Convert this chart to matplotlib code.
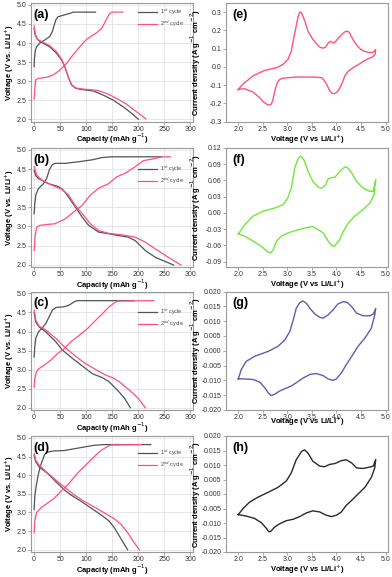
import matplotlib
matplotlib.use("Agg")
import matplotlib.pyplot as plt
import numpy as np

plt.rcParams['font.family'] = ['Liberation Sans', 'DejaVu Sans']

# ---------------- Galvanostatic data (capacity mAh/g, voltage V) ----------------
# panel (a)
a_c1_cap = [0, 0.6, 2, 4.5, 11, 20.5, 30, 35, 38.5, 42, 46, 59, 69, 75, 118]
a_c1_v = [3.38, 3.6, 3.77, 3.9, 4.0, 4.08, 4.17, 4.3, 4.47, 4.62, 4.69, 4.74, 4.78, 4.81, 4.81]
a_d1_cap = [0, 2, 6, 11, 30, 43, 53, 59, 65.5, 72, 80, 91, 114, 133, 152, 171.5, 187.5, 200]
a_d1_v = [4.38, 4.22, 4.1, 4.04, 3.9, 3.73, 3.55, 3.38, 3.11, 2.9, 2.81, 2.78, 2.74, 2.63, 2.5, 2.32, 2.15, 2.0]
a_d2_cap = [0, 2, 6, 17, 30, 43, 53, 60, 65.5, 72, 80, 94, 120, 139, 159, 178, 197, 214.5]
a_d2_v = [4.45, 4.25, 4.1, 4.02, 3.93, 3.77, 3.57, 3.33, 3.11, 2.9, 2.82, 2.79, 2.76, 2.68, 2.54, 2.39, 2.19, 2.01]
a_c2_cap = [0, 1.3, 3.2, 7.7, 24, 36.6, 49.5, 62, 72, 85, 101, 120, 130, 138, 144.5, 149, 170]
a_c2_v = [2.53, 2.81, 3.03, 3.07, 3.1, 3.16, 3.29, 3.46, 3.64, 3.86, 4.1, 4.27, 4.39, 4.6, 4.76, 4.81, 4.81]

# panel (b)
b_c1_cap = [0, 1.3, 3.2, 8.3, 18, 24, 29, 34, 40, 60, 85, 111, 130, 149, 245]
b_c1_v = [3.33, 3.6, 3.82, 3.99, 4.12, 4.25, 4.47, 4.6, 4.65, 4.65, 4.69, 4.74, 4.8, 4.82, 4.82]
b_d1_cap = [0, 3, 8.3, 27.5, 47, 56, 66, 79, 92, 104.5, 124, 143, 162, 181, 194, 213.5, 233, 268]
b_d1_v = [4.47, 4.33, 4.25, 4.12, 4.04, 3.95, 3.77, 3.51, 3.25, 3.03, 2.85, 2.81, 2.76, 2.72, 2.63, 2.37, 2.19, 1.99]
b_d2_cap = [0, 5, 15, 34, 53, 66, 79, 95, 108, 124, 143, 169, 194, 213.5, 233, 258, 282]
b_d2_v = [4.56, 4.34, 4.21, 4.08, 3.97, 3.82, 3.55, 3.29, 3.07, 2.89, 2.82, 2.78, 2.72, 2.59, 2.41, 2.19, 1.99]
b_c2_cap = [0, 2, 5, 11.5, 24, 40, 60, 76, 92, 108, 124, 143, 159, 175, 194, 210, 230, 245, 262]
b_c2_v = [2.37, 2.76, 2.98, 3.03, 3.05, 3.07, 3.2, 3.38, 3.55, 3.82, 4.0, 4.12, 4.3, 4.39, 4.56, 4.72, 4.77, 4.82, 4.82]

# panel (c)
c_c1_cap = [0, 1.3, 3.2, 8.3, 16, 22.4, 29, 35, 41.7, 57.7, 67, 77, 83, 192]
c_c1_v = [3.33, 3.6, 3.82, 3.99, 4.1, 4.21, 4.39, 4.56, 4.63, 4.65, 4.69, 4.78, 4.81, 4.81]
c_d1_cap = [0, 3.2, 9.6, 22.4, 41.7, 54.5, 74, 93, 112, 131, 144, 160, 173, 184.6]
c_d1_v = [4.49, 4.25, 4.12, 3.99, 3.73, 3.51, 3.29, 3.09, 2.89, 2.79, 2.68, 2.46, 2.26, 2.0]
c_d2_cap = [0, 3.2, 9.6, 22.4, 41.7, 57.7, 77, 96, 118.6, 138, 150.6, 163.5, 183, 199, 213.5]
c_d2_v = [4.56, 4.3, 4.14, 4.04, 3.82, 3.6, 3.38, 3.18, 3.0, 2.85, 2.79, 2.68, 2.46, 2.26, 2.0]
c_c2_cap = [0, 1.3, 4.5, 9.6, 19, 32, 45, 57.7, 70.5, 86.5, 102.6, 118.6, 131.4, 144, 154, 160, 229.5]
c_c2_v = [2.54, 2.76, 2.94, 3.03, 3.11, 3.25, 3.42, 3.55, 3.73, 3.9, 4.08, 4.3, 4.47, 4.65, 4.75, 4.8, 4.81]

# panel (d)
d_c1_cap = [0, 1.3, 3.8, 7.7, 11.5, 16, 20.5, 25.6, 38.5, 57.7, 90, 115, 134.6, 224]
d_c1_v = [3.08, 3.43, 3.69, 4.0, 4.22, 4.4, 4.56, 4.62, 4.65, 4.66, 4.74, 4.8, 4.82, 4.82]
d_d1_cap = [0, 3.2, 9.6, 25.6, 45, 57.7, 70.5, 90, 109, 128, 144, 154, 163.5, 173, 179.5]
d_d1_v = [4.53, 4.36, 4.22, 4.05, 3.78, 3.61, 3.47, 3.3, 3.12, 2.94, 2.77, 2.59, 2.37, 2.15, 2.0]
d_d2_cap = [0, 3.2, 9.6, 25.6, 45, 61, 77, 96, 115, 134.6, 154, 167, 179.5, 192, 202]
d_d2_v = [4.58, 4.4, 4.27, 4.06, 3.83, 3.65, 3.47, 3.3, 3.15, 2.99, 2.83, 2.68, 2.46, 2.19, 2.0]
d_c2_cap = [0, 1.3, 4.5, 12.8, 25.6, 38.5, 51, 67, 83, 99, 115, 128, 141, 147, 205]
d_c2_v = [2.46, 2.77, 2.99, 3.12, 3.25, 3.38, 3.56, 3.78, 4.05, 4.27, 4.49, 4.66, 4.77, 4.81, 4.82]

# ---------------- CV data (voltage V, current density) ----------------
e_v = [2.0, 2.06, 2.13, 2.2, 2.3, 2.42, 2.54, 2.66, 2.78, 2.91, 3.01, 3.08, 3.15, 3.22, 3.25, 3.28,
       3.32, 3.37, 3.42, 3.52, 3.6, 3.66, 3.72, 3.78, 3.83, 3.88, 3.93, 3.98, 4.03, 4.1, 4.16, 4.21,
       4.26, 4.3, 4.36, 4.43, 4.5, 4.57, 4.64, 4.71, 4.76, 4.8,
       4.79, 4.76, 4.72, 4.65, 4.55, 4.45, 4.35, 4.24, 4.17, 4.12, 4.07, 4.03, 3.99, 3.95, 3.91, 3.86,
       3.8, 3.75, 3.7, 3.6, 3.42, 3.2, 3.0, 2.9, 2.84, 2.8, 2.76, 2.73, 2.7, 2.67, 2.64, 2.6, 2.55,
       2.5, 2.44, 2.37, 2.3, 2.2, 2.13, 2.05, 2.0]
e_i = [-0.125, -0.105, -0.087, -0.072, -0.05, -0.034, -0.02, -0.012, -0.005, 0.013, 0.04, 0.085,
       0.185, 0.276, 0.3, 0.298, 0.276, 0.24, 0.195, 0.15, 0.125, 0.108, 0.102, 0.108, 0.13, 0.14,
       0.13, 0.138, 0.155, 0.175, 0.19, 0.196, 0.19, 0.168, 0.14, 0.113, 0.095, 0.085, 0.08, 0.078,
       0.082, 0.095,
       0.07, 0.06, 0.052, 0.045, 0.03, 0.013, -0.003, -0.024, -0.05, -0.087, -0.115, -0.133, -0.143,
       -0.147, -0.145, -0.13, -0.096, -0.075, -0.06, -0.057, -0.056, -0.056, -0.06, -0.063, -0.07,
       -0.085, -0.115, -0.15, -0.187, -0.205, -0.21, -0.208, -0.2, -0.19, -0.17, -0.155, -0.138,
       -0.128, -0.12, -0.122, -0.125]

f_v = [2.0, 2.13, 2.3, 2.5, 2.74, 2.91, 3.01, 3.08, 3.15, 3.22, 3.27, 3.34, 3.42, 3.52, 3.64, 3.71,
       3.78, 3.83, 3.9, 3.97, 4.07, 4.17, 4.22, 4.31, 4.41, 4.54, 4.68, 4.75, 4.8,
       4.78, 4.77, 4.68, 4.54, 4.37, 4.24, 4.14, 4.05, 3.95, 3.9, 3.83, 3.73, 3.52, 3.35, 3.15, 3.01,
       2.88, 2.78, 2.71, 2.66, 2.6, 2.47, 2.3, 2.13, 2.0]
f_i = [-0.039, -0.022, -0.006, 0.003, 0.009, 0.015, 0.028, 0.046, 0.083, 0.101, 0.105, 0.098, 0.077,
       0.058, 0.047, 0.046, 0.052, 0.063, 0.065, 0.066, 0.077, 0.085, 0.084, 0.074, 0.058, 0.046,
       0.04, 0.04, 0.061,
       0.049, 0.034, 0.018, 0.006, -0.006, -0.019, -0.034, -0.052, -0.062, -0.06, -0.052, -0.037,
       -0.025, -0.028, -0.033, -0.037, -0.043, -0.052, -0.068, -0.074, -0.072, -0.062, -0.052,
       -0.043, -0.039]

g_v = [2.0, 2.06, 2.16, 2.33, 2.61, 2.81, 2.95, 3.05, 3.12, 3.18, 3.25, 3.32, 3.39, 3.46, 3.56, 3.66,
       3.73, 3.83, 3.93, 4.03, 4.14, 4.22, 4.31, 4.41, 4.54, 4.68, 4.75, 4.8,
       4.78, 4.71, 4.58, 4.44, 4.31, 4.2, 4.1, 4.0, 3.93, 3.83, 3.73, 3.59, 3.46, 3.32, 3.18, 3.08,
       2.95, 2.84, 2.74, 2.67, 2.61, 2.54, 2.44, 2.3, 2.13, 2.0]
g_i = [-0.0095, -0.0064, -0.0036, -0.0019, -0.0002, 0.0015, 0.0037, 0.0065, 0.0104, 0.0143, 0.0162,
       0.0168, 0.016, 0.0143, 0.0124, 0.0113, 0.011, 0.0121, 0.0138, 0.0158, 0.0166, 0.0163, 0.0149,
       0.0127, 0.0118, 0.0118, 0.0124, 0.0143,
       0.0121, 0.0076, 0.0043, 0.0015, -0.0019, -0.0047, -0.0075, -0.0095, -0.0100, -0.0095, -0.0084,
       -0.0077, -0.008, -0.0092, -0.0108, -0.0119, -0.0128, -0.0136, -0.0147, -0.0151, -0.0142,
       -0.0125, -0.0106, -0.0097, -0.0095, -0.0095]

h_v = [2.0, 2.1, 2.23, 2.4, 2.61, 2.81, 2.98, 3.08, 3.18, 3.29, 3.35, 3.42, 3.52, 3.66, 3.76, 3.86,
       3.97, 4.1, 4.2, 4.31, 4.41, 4.54, 4.68, 4.75, 4.8,
       4.78, 4.71, 4.58, 4.44, 4.31, 4.2, 4.1, 4.0, 3.9, 3.79, 3.66, 3.52, 3.39, 3.25, 3.12, 2.98,
       2.84, 2.74, 2.66, 2.62, 2.57, 2.47, 2.33, 2.16, 2.0]
h_i = [-0.0071, -0.005, -0.0028, -0.0011, 0.0006, 0.0023, 0.0045, 0.0073, 0.0118, 0.0147, 0.0152,
       0.0141, 0.0113, 0.0096, 0.0094, 0.0102, 0.0105, 0.0115, 0.0118, 0.0107, 0.009, 0.0088, 0.0093,
       0.0096, 0.0119,
       0.009, 0.0057, 0.0023, 0.0, -0.0022, -0.0039, -0.0062, -0.0073, -0.0078, -0.0073, -0.0062,
       -0.0058, -0.0065, -0.0078, -0.0087, -0.0092, -0.0103, -0.0114, -0.0129, -0.013, -0.0118,
       -0.0099, -0.0084, -0.0076, -0.0071]

cap_ticks = [0, 50, 100, 150, 200, 250, 300]
volt_ticks = [2.0, 2.5, 3.0, 3.5, 4.0, 4.5, 5.0]
cv_xticks = [2.0, 2.5, 3.0, 3.5, 4.0, 4.5, 5.0]
e_yticks = [-0.3, -0.2, -0.1, 0.0, 0.1, 0.2, 0.3]
f_yticks = [-0.09, -0.06, -0.03, 0.00, 0.03, 0.06, 0.09, 0.12]
gh_yticks = [-0.020, -0.015, -0.010, -0.005, 0.000, 0.005, 0.010, 0.015, 0.020]

GREY = '#4d5555'
PINK = '#ff4f7f'
cv_colors = ['#ff5377', '#6fe83a', '#5a5fb3', '#2a2a2a']

W, H = 392, 577
fig = plt.figure(figsize=(W / 100, H / 100), dpi=100)

rows = [(3, 121.5), (148, 267), (291.5, 410), (436, 552)]
LX0, LX1 = 31, 193
RX0, RX1 = 226, 388
LABEL_FS = 5.5


def make_ax(x0, x1, top, bot):
    return fig.add_axes([x0 / W, 1 - bot / H, (x1 - x0) / W, (bot - top) / H])


def style(ax):
    for s in ax.spines.values():
        s.set_color('#9a9a9a')
        s.set_linewidth(0.8)
    ax.tick_params(labelsize=5, length=2, width=0.6, pad=1.2, colors='#9a9a9a', labelcolor='#333333')


gal = [
    ('(a)', a_c1_cap, a_c1_v, a_d1_cap, a_d1_v, a_c2_cap, a_c2_v, a_d2_cap, a_d2_v, 1.0),
    ('(b)', b_c1_cap, b_c1_v, b_d1_cap, b_d1_v, b_c2_cap, b_c2_v, b_d2_cap, b_d2_v, 0.90),
    ('(c)', c_c1_cap, c_c1_v, c_d1_cap, c_d1_v, c_c2_cap, c_c2_v, c_d2_cap, c_d2_v, 0.90),
    ('(d)', d_c1_cap, d_c1_v, d_d1_cap, d_d1_v, d_c2_cap, d_c2_v, d_d2_cap, d_d2_v, 0.93),
]

for (lab, c1x, c1y, d1x, d1y, c2x, c2y, d2x, d2y, legy), (top, bot) in zip(gal, rows):
    ax = make_ax(LX0, LX1, top, bot)
    style(ax)
    ax.plot(c1x, c1y, color=GREY, lw=0.9, label='1$^{st}$ cycle')
    ax.plot(d1x, d1y, color=GREY, lw=0.9)
    ax.plot(c2x, c2y, color=PINK, lw=0.9, label='2$^{nd}$ cycle')
    ax.plot(d2x, d2y, color=PINK, lw=0.9)
    ax.set_xlim(-6, 305)
    ax.set_ylim(1.94, 5.05)
    ax.set_xticks(cap_ticks)
    ax.set_yticks(volt_ticks)
    ax.set_yticklabels([f'{v:.1f}' for v in volt_ticks])
    ax.grid(True, color='#e3e3e3', lw=0.6)
    ax.set_axisbelow(True)
    ax.set_xlabel('Capacity (mAh g$^{-1}$)', fontsize=LABEL_FS, fontweight='bold', labelpad=-0.8)
    ax.set_ylabel('Voltage (V vs. Li/Li$^{+}$)', fontsize=LABEL_FS, fontweight='bold')
    ax.yaxis.set_label_coords(-0.093, 0.5)
    ax.text(0.012, 0.95, lab, transform=ax.transAxes, fontsize=9, fontweight='bold',
            va='top', ha='left')
    ax.legend(loc='upper right', bbox_to_anchor=(0.97, legy), frameon=False, fontsize=4,
              handlelength=3.4, handletextpad=0.6, labelspacing=0.3, borderpad=0.2,
              labelcolor='#444444')

cv = [('(e)', e_v, e_i, (-0.3, 0.35), e_yticks, '%.1f', -0.8),
      ('(f)', f_v, f_i, (-0.1, 0.12), f_yticks, '%.2f', -0.8),
      ('(g)', g_v, g_i, (-0.02, 0.02), gh_yticks, '%.3f', -5.0),
      ('(h)', h_v, h_i, (-0.02, 0.02), gh_yticks, '%.3f', -0.8)]

for (lab, vx, iy, ylim, yt, fmt, lp), (top, bot), col in zip(cv, rows, cv_colors):
    ax = make_ax(RX0, RX1, top, bot)
    style(ax)
    ax.plot(vx, iy, color=col, lw=1.0)
    ax.set_xlim(1.75, 5.05)
    ax.set_ylim(*ylim)
    ax.set_xticks(cv_xticks)
    ax.set_xticklabels([f'{v:.1f}' for v in cv_xticks])
    ax.set_yticks(yt)
    ax.set_yticklabels([fmt % v for v in yt])
    ax.set_xlabel('Voltage (V vs Li/Li$^{+}$)', fontsize=LABEL_FS, fontweight='bold', labelpad=lp)
    ax.set_ylabel('Current density (A g$^{-1}$ cm$^{-2}$)', fontsize=LABEL_FS, fontweight='bold')
    ax.yaxis.set_label_coords(-0.142, 0.5)
    ax.text(0.04, 0.95, lab, transform=ax.transAxes, fontsize=9, fontweight='bold',
            va='top', ha='left')

fig.savefig('out.png', dpi=100)
